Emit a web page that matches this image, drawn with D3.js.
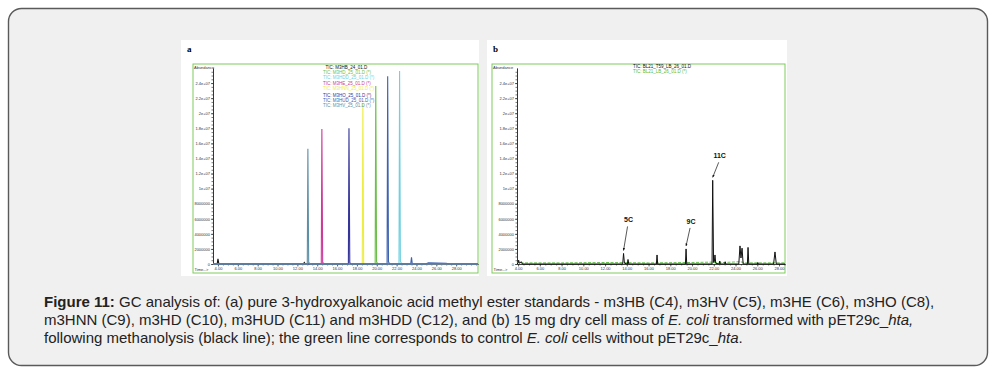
<!DOCTYPE html>
<html>
<head>
<meta charset="utf-8">
<script src="https://cdn.jsdelivr.net/npm/d3@7"></script>
<style>
  html, body { margin: 0; padding: 0; background: #fff; }
  svg { display: block; }
</style>
</head>
<body>
<svg id="fig" width="996" height="374"></svg>
<script>
// ---------- data ----------
const yTickValues = [0, 2e6, 4e6, 6e6, 8e6, 1e7, 1.2e7, 1.4e7, 1.6e7, 1.8e7, 2e7, 2.2e7, 2.4e7];
const yTickLabels = ["0", "2000000", "4000000", "6000000", "8000000", "1e+07", "1.2e+07",
  "1.4e+07", "1.6e+07", "1.8e+07", "2e+07", "2.2e+07", "2.4e+07"];
const xTickValues = [4, 6, 8, 10, 12, 14, 16, 18, 20, 22, 24, 26, 28];
const xTickLabels = ["4.00", "6.00", "8.00", "10.00", "12.00", "14.00", "16.00",
  "18.00", "20.00", "22.00", "24.00", "26.00", "28.00"];

// panel a: standards
const standardNames = [
  "TIC: M3HB_24_01.D",
  "TIC: M3HD_25_01.D (*)",
  "TIC: M3HDD_25_01.D (*)",
  "TIC: M3HE_25_01.D (*)",
  "TIC: M3HNN_25_01.D (*)",
  "TIC: M3HO_25_01.D (*)",
  "TIC: M3HUD_25_01.D (*)",
  "TIC: M3HV_25_01.D (*)"
];
const standardColors = ["#111111", "#6cc04a", "#6fd0e0", "#cc3a9a", "#eeee40", "#34349a", "#3d62b0", "#5d8fa6"];
const standardTraces = [
  [[3.5, 0], [3.92, 0], [4.0, 0.7e6], [4.08, 0.1e6], [4.25, 0], [12.6, 0], [12.7, 0.2e6], [12.8, 0], [30.2, 0]],
  [[3.5, 0], [19.84, 0], [19.9, 23.6e6], [19.98, 0.3e6], [20.1, 0], [30.2, 0]],
  [[3.5, 0], [22.24, 0], [22.3, 25.6e6], [22.38, 0.4e6], [22.5, 0], [30.2, 0]],
  [[3.5, 0], [14.41, 0], [14.47, 17.9e6], [14.55, 0.2e6], [14.7, 0], [30.2, 0]],
  [[3.5, 0], [18.54, 0], [18.6, 21.2e6], [18.68, 0.2e6], [18.8, 0], [30.2, 0]],
  [[3.5, 0], [17.14, 0], [17.2, 18.0e6], [17.28, 0.2e6], [17.4, 0], [30.2, 0]],
  [[3.5, 0], [21.04, 0], [21.1, 24.9e6], [21.18, 0.3e6], [21.3, 0], [23.42, 0], [23.5, 0.9e6],
   [23.58, 0], [24.9, 0], [25.2, 0.15e6], [27.0, 0.1e6], [27.3, 0], [30.2, 0]],
  [[3.5, 0], [13.0, 0], [13.06, 15.3e6], [13.14, 0.2e6], [13.3, 0], [30.2, 0]]
];

// panel b: sample (black) and control (green)
const sampleNames = ["TIC: BL21_T59_LB_26_01.D", "TIC: BL21_LB_26_01.D (*)"];
const sampleColors = ["#111111", "#55bb3a"];
const sampleTrace = [
  [3.9, 0], [4.0, 0.1e6], [4.05, 0.5e6], [4.12, 0.1e6], [4.3, 0.3e6], [4.4, 0],
  [13.62, 0], [13.7, 1.4e6], [13.78, 0.1e6], [14.05, 0], [14.11, 0.6e6], [14.18, 0],
  [16.72, 0], [16.78, 1.2e6], [16.84, 0],
  [19.39, 0], [19.45, 2.0e6], [19.51, 0],
  [21.84, 0], [21.9, 11.1e6], [21.98, 0.2e6], [22.05, 0.3e6], [22.11, 1.2e6], [22.18, 0.1e6],
  [22.5, 0], [22.55, 0.4e6], [22.6, 0], [23.0, 0], [23.05, 0.3e6], [23.1, 0],
  [24.3, 0], [24.41, 2.4e6], [24.5, 0.8e6], [24.6, 2.1e6], [24.7, 0],
  [25.09, 0], [25.15, 2.2e6], [25.22, 0],
  [26.0, 0], [26.05, 0.2e6], [26.1, 0],
  [27.5, 0], [27.63, 1.6e6], [27.75, 0], [28.55, 0]
];
const controlTrace = [
  [3.9, 0.15e6], [4.0, 0.3e6], [4.1, 0.15e6], [8.0, 0.15e6], [12.0, 0.2e6], [16.0, 0.15e6],
  [20.0, 0.2e6], [21.9, 0.25e6], [22.2, 0.15e6], [24.4, 0.3e6], [25.0, 0.15e6], [28.55, 0.15e6]
];
const peakLabels = ["5C", "9C", "11C"];
const peakTimes = [13.7, 19.45, 21.9];
const peakHeights = [1.4e6, 2.0e6, 11.1e6];

const captionLines = [
  [["Figure 11:", "bold"], [" GC analysis of: (a) pure 3-hydroxyalkanoic acid methyl ester standards - m3HB (C4), m3HV (C5), m3HE (C6), m3HO (C8),", ""]],
  [["m3HNN (C9), m3HD (C10), m3HUD (C11) and m3HDD (C12), and (b) 15 mg dry cell mass of ", ""], ["E. coli", "italic"], [" transformed with pET29c_", ""], ["hta,", "italic"]],
  [["following methanolysis (black line); the green line corresponds to control ", ""], ["E. coli", "italic"], [" cells without pET29c_", ""], ["hta", "italic"], [".", ""]]
];

// ---------- drawing ----------
const svg = d3.select("#fig");

svg.append("rect")
  .attr("x", 8.5).attr("y", 8.5)
  .attr("width", 979).attr("height", 357)
  .attr("rx", 13).attr("ry", 13)
  .attr("fill", "#f0f0f0")
  .attr("stroke", "#5a5a5a")
  .attr("stroke-width", 1.4);

const tickFont = "'Liberation Sans Narrow', 'Liberation Sans', Arial, sans-serif";

function createPanel(cfg) {
  const g = svg.append("g");

  g.append("rect")
    .attr("x", cfg.bg[0]).attr("y", cfg.bg[1])
    .attr("width", cfg.bg[2]).attr("height", cfg.bg[3])
    .attr("fill", "#fff");

  g.append("text")
    .attr("x", cfg.bg[0] + 6).attr("y", 52)
    .attr("font-family", "'Liberation Serif', 'Times New Roman', serif")
    .attr("font-weight", "bold")
    .attr("font-size", 9)
    .text(cfg.letter);

  g.append("rect")
    .attr("x", cfg.frame[0]).attr("y", cfg.frame[1])
    .attr("width", cfg.frame[2] - cfg.frame[0]).attr("height", cfg.frame[3] - cfg.frame[1])
    .attr("fill", "none")
    .attr("stroke", "#7ccc5c")
    .attr("stroke-width", 1);

  const xscale = d3.scaleLinear().domain(cfg.xDomain).range([cfg.axisX, cfg.frame[2]]);
  const yscale = d3.scaleLinear().domain([0, 2.6e7]).range([264, 68]);

  // minor ticks
  g.append("g")
    .attr("transform", `translate(${cfg.axisX},0)`)
    .call(d3.axisLeft(yscale).tickValues(d3.range(0, 2.6e7, 5e5)).tickFormat("").tickSize(1.5).tickSizeOuter(0))
    .call((s) => s.selectAll("line,path").attr("stroke", "#222").attr("stroke-width", 0.6));

  const yaxis = d3.axisLeft(yscale)
    .tickValues(yTickValues)
    .tickFormat((d, i) => yTickLabels[i])
    .tickSize(2)
    .tickPadding(1)
    .tickSizeOuter(0);
  g.append("g")
    .attr("class", "y axis")
    .attr("transform", `translate(${cfg.axisX},0)`)
    .call(yaxis)
    .call((s) => {
      s.select(".domain").attr("stroke", "#222").attr("stroke-width", 0.8);
      s.selectAll(".tick line").attr("stroke", "#222").attr("stroke-width", 0.6);
      s.selectAll("text").attr("font-family", tickFont).attr("font-size", 4).attr("fill", "#333");
    });

  g.append("g")
    .attr("transform", "translate(0,264)")
    .call(d3.axisBottom(xscale).tickValues(d3.range(4, cfg.xDomain[1], 0.5)).tickFormat("").tickSize(1.5).tickSizeOuter(0))
    .call((s) => s.selectAll("line,path").attr("stroke", "#222").attr("stroke-width", 0.6));

  const xaxis = d3.axisBottom(xscale)
    .tickValues(xTickValues)
    .tickFormat((d, i) => xTickLabels[i])
    .tickSize(2.5)
    .tickPadding(1)
    .tickSizeOuter(0);
  g.append("g")
    .attr("class", "x axis")
    .attr("transform", "translate(0,264)")
    .call(xaxis)
    .call((s) => {
      s.select(".domain").attr("stroke", "#222").attr("stroke-width", 0.6);
      s.selectAll(".tick line").attr("stroke", "#222").attr("stroke-width", 0.6);
      s.selectAll("text").attr("font-family", tickFont).attr("font-size", 4).attr("fill", "#333");
    });

  g.append("text")
    .attr("x", cfg.frame[0] + 1.5).attr("y", 270.5)
    .attr("font-family", tickFont).attr("font-size", 4).attr("fill", "#333")
    .text("Time-->");

  g.append("text")
    .attr("x", cfg.frame[0] + 1).attr("y", 68.5)
    .attr("font-family", tickFont).attr("font-size", 4).attr("fill", "#333")
    .text("Abundance");

  const line = d3.line().x((d) => xscale(d[0])).y((d) => yscale(d[1]));

  return { g, xscale, yscale, line };
}

// panel a
const pa = createPanel({
  letter: "a",
  bg: [181, 40, 298, 236],
  frame: [193, 64, 478, 273],
  axisX: 213,
  xDomain: [3.5, 30.2]
});

pa.g.append("g")
  .selectAll("path")
  .data(standardTraces)
  .join("path")
  .attr("d", pa.line)
  .attr("fill", "none")
  .attr("stroke", (d, i) => standardColors[i])
  .attr("stroke-width", 1.1);

pa.g.append("g")
  .selectAll("text")
  .data(standardNames)
  .join("text")
  .attr("x", (d, i) => (i === 0 ? 325.5 : 323))
  .attr("y", (d, i) => 68.5 + i * 5.4 + (i > 4 ? 1 : 0))
  .attr("font-family", "'Liberation Sans', Arial, sans-serif")
  .attr("font-size", 4.5)
  .attr("fill", (d, i) => standardColors[i])
  .text((d) => d);

// panel b
const pb = createPanel({
  letter: "b",
  bg: [487, 40, 300, 236],
  frame: [492, 64, 785, 273],
  axisX: 517,
  xDomain: [3.9, 28.55]
});

pb.g.append("path")
  .datum(controlTrace)
  .attr("d", pb.line)
  .attr("fill", "none")
  .attr("stroke", sampleColors[1])
  .attr("stroke-width", 0.9)
  .attr("stroke-dasharray", "3,1.5");

pb.g.append("path")
  .datum(sampleTrace)
  .attr("d", pb.line)
  .attr("fill", "none")
  .attr("stroke", sampleColors[0])
  .attr("stroke-width", 1);

pb.g.append("g")
  .selectAll("text")
  .data(sampleNames)
  .join("text")
  .attr("x", 633)
  .attr("y", (d, i) => 67.5 + i * 5.6)
  .attr("font-family", "'Liberation Sans', Arial, sans-serif")
  .attr("font-size", 4.5)
  .attr("fill", (d, i) => sampleColors[i])
  .text((d) => d);

// arrows for labelled peaks (offsets in px from the peak top)
const arrowOffsets = [[4, -24], [4, -18], [6, -15]];
const defs = svg.append("defs");
defs.append("marker")
  .attr("id", "arrowhead")
  .attr("viewBox", "0 0 10 10")
  .attr("refX", 9).attr("refY", 5)
  .attr("markerWidth", 4).attr("markerHeight", 4)
  .attr("orient", "auto")
  .append("path")
  .attr("d", "M0,1 L10,5 L0,9 z")
  .attr("fill", "#111");

const ann = pb.g.append("g")
  .selectAll("g")
  .data(peakLabels)
  .join("g");

ann.append("line")
  .attr("x1", (d, i) => pb.xscale(peakTimes[i]) + arrowOffsets[i][0])
  .attr("y1", (d, i) => pb.yscale(peakHeights[i]) - 3 + arrowOffsets[i][1])
  .attr("x2", (d, i) => pb.xscale(peakTimes[i]))
  .attr("y2", (d, i) => pb.yscale(peakHeights[i]) - 3)
  .attr("stroke", "#111")
  .attr("stroke-width", 0.7)
  .attr("marker-end", "url(#arrowhead)");

ann.append("text")
  .attr("x", (d, i) => pb.xscale(peakTimes[i]) + arrowOffsets[i][0] + 1)
  .attr("y", (d, i) => pb.yscale(peakHeights[i]) - 3 + arrowOffsets[i][1] - 4)
  .attr("text-anchor", "middle")
  .attr("font-family", "'Liberation Sans', Arial, sans-serif")
  .attr("font-weight", "bold")
  .attr("font-size", 7)
  .attr("fill", "#111")
  .text((d) => d);

// caption
const caption = svg.append("g")
  .attr("font-family", "'Liberation Sans', Arial, sans-serif")
  .attr("font-size", 15)
  .attr("fill", "#222");

caption.selectAll("text")
  .data(captionLines)
  .join("text")
  .attr("x", 44)
  .attr("y", (d, i) => 307 + i * 18)
  .selectAll("tspan")
  .data((d) => d)
  .join("tspan")
  .attr("font-weight", (d) => (d[1] === "bold" ? "bold" : null))
  .attr("font-style", (d) => (d[1] === "italic" ? "italic" : null))
  .text((d) => d[0]);
</script>
</body>
</html>
